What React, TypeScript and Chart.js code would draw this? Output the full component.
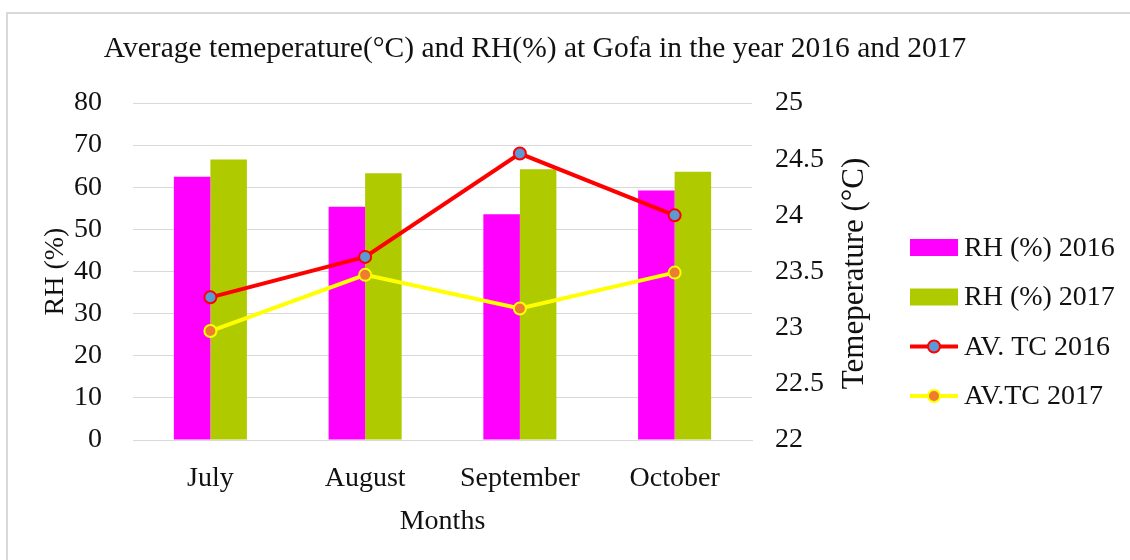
import React, { useEffect, useRef } from "react";
import { Chart, registerables } from "chart.js";

Chart.register(...registerables);

const months = ["July", "August", "September", "October"];
const rh2016 = [62.5, 55.4, 53.6, 59.2];
const rh2017 = [66.6, 63.3, 64.3, 63.7];
const tc2016 = [23.27, 23.63, 24.55, 24.0];
const tc2017 = [22.97, 23.47, 23.17, 23.49];

const chartTitle = "Average temeperature(°C) and RH(%) at Gofa in the year 2016 and 2017";
const leftTitle = "RH (%)";
const rightTitle = "Temeperature (°C)";
const xTitle = "Months";

const FONT = "'Liberation Serif', 'Times New Roman', serif";
const TEXT = "#111111";
const GRID = "#d9d9d9";

const decorPlugin = {
  id: "decor",
  beforeDraw(chart: any) {
    const ctx = chart.ctx;
    ctx.save();
    ctx.strokeStyle = GRID;
    ctx.lineWidth = 2;
    ctx.beginPath();
    ctx.moveTo(7, 560);
    ctx.lineTo(7, 13);
    ctx.lineTo(1130, 13);
    ctx.stroke();
    ctx.restore();
  },
  afterDraw(chart: any) {
    const ctx = chart.ctx;
    const area = chart.chartArea;
    ctx.save();
    // title
    ctx.fillStyle = TEXT;
    ctx.font = `29.5px ${FONT}`;
    ctx.textAlign = "center";
    ctx.textBaseline = "middle";
    ctx.fillText(chartTitle, 535, 49);
    // right axis title (reads bottom to top)
    ctx.save();
    ctx.font = `31px ${FONT}`;
    ctx.translate(855, (area.top + area.bottom) / 2 + 2);
    ctx.rotate(-Math.PI / 2);
    ctx.fillText(rightTitle, 0, 0);
    ctx.restore();
    // legend
    const ds = chart.data.datasets;
    const x0 = 910;
    const y0 = 247.5;
    const step = 49.5;
    ds.forEach((d: any, i: number) => {
      const cy = y0 + i * step;
      if (d.type === "bar") {
        ctx.fillStyle = d.backgroundColor;
        ctx.fillRect(x0, cy - 8.5, 48, 17);
      } else {
        ctx.strokeStyle = d.borderColor;
        ctx.lineWidth = d.borderWidth;
        ctx.beginPath();
        ctx.moveTo(x0, cy);
        ctx.lineTo(x0 + 48, cy);
        ctx.stroke();
        ctx.beginPath();
        ctx.arc(x0 + 24, cy, d.pointRadius, 0, Math.PI * 2);
        ctx.fillStyle = d.pointBackgroundColor;
        ctx.fill();
        ctx.lineWidth = d.pointBorderWidth;
        ctx.strokeStyle = d.pointBorderColor;
        ctx.stroke();
      }
      ctx.fillStyle = TEXT;
      ctx.font = `28px ${FONT}`;
      ctx.textAlign = "left";
      ctx.textBaseline = "middle";
      ctx.fillText(d.label, x0 + 54, cy + 1);
    });
    ctx.restore();
  },
};

export default function App() {
  const ref = useRef<HTMLCanvasElement | null>(null);
  useEffect(() => {
    document.body.style.margin = "0";
    const canvas = ref.current;
    if (!canvas) return;
    const chart = new Chart(canvas, {
      data: {
        labels: months,
        datasets: [
          {
            type: "bar",
            label: "RH (%) 2016",
            data: rh2016,
            backgroundColor: "#ff00ff",
            yAxisID: "y",
            order: 2,
            categoryPercentage: 0.472,
            barPercentage: 1,
          },
          {
            type: "bar",
            label: "RH (%) 2017",
            data: rh2017,
            backgroundColor: "#afcb00",
            yAxisID: "y",
            order: 2,
            categoryPercentage: 0.472,
            barPercentage: 1,
          },
          {
            type: "line",
            label: "AV. TC 2016",
            data: tc2016,
            borderColor: "#ff0000",
            borderWidth: 4,
            pointRadius: 6,
            pointBackgroundColor: "#5b9bd5",
            pointBorderColor: "#ff0000",
            pointBorderWidth: 2,
            yAxisID: "y1",
            order: 1,
            tension: 0,
          },
          {
            type: "line",
            label: "AV.TC 2017",
            data: tc2017,
            borderColor: "#ffff00",
            borderWidth: 4,
            pointRadius: 6,
            pointBackgroundColor: "#ed7d31",
            pointBorderColor: "#ffff00",
            pointBorderWidth: 2,
            yAxisID: "y1",
            order: 1,
            tension: 0,
          },
        ] as any,
      },
      options: {
        responsive: false,
        animation: false,
        devicePixelRatio: 1,
        layout: { padding: { top: 103, left: 0, right: 248, bottom: 0 } },
        plugins: {
          legend: { display: false },
          title: { display: false },
          tooltip: { enabled: false },
        },
        scales: {
          x: {
            type: "category",
            offset: true,
            grid: { display: false, drawTicks: false },
            border: { display: true, color: GRID, width: 1 },
            ticks: { color: TEXT, font: { family: FONT, size: 28 }, padding: 22, maxRotation: 0 },
            title: {
              display: true,
              text: xTitle,
              color: TEXT,
              font: { family: FONT, size: 28 },
              padding: { top: 0, bottom: 22 },
            },
            afterFit: (s: any) => {
              s.height = 120;
            },
          },
          y: {
            type: "linear",
            position: "left",
            min: 0,
            max: 80,
            ticks: { stepSize: 10, color: TEXT, font: { family: FONT, size: 28 }, padding: 31 },
            grid: { color: GRID, lineWidth: 1, drawTicks: false },
            border: { display: false },
            title: {
              display: true,
              text: leftTitle,
              color: TEXT,
              font: { family: FONT, size: 28 },
              padding: { top: 39, bottom: 0 },
            },
            afterFit: (s: any) => {
              s.width = 133;
            },
          },
          y1: {
            type: "linear",
            position: "right",
            min: 22,
            max: 25,
            ticks: {
              stepSize: 0.5,
              color: TEXT,
              font: { family: FONT, size: 28 },
              padding: 23,
              callback: (v: any) => String(Number(v)),
            },
            grid: { display: false, drawTicks: false },
            border: { display: false },
            afterFit: (s: any) => {
              s.width = 130;
            },
          },
        },
      } as any,
      plugins: [decorPlugin],
    });
    return () => chart.destroy();
  }, []);
  return (
    <div style={{ width: 1130, height: 560, background: "#fff" }}>
      <canvas ref={ref} width={1130} height={560} style={{ display: "block", width: 1130, height: 560 }} />
    </div>
  );
}
